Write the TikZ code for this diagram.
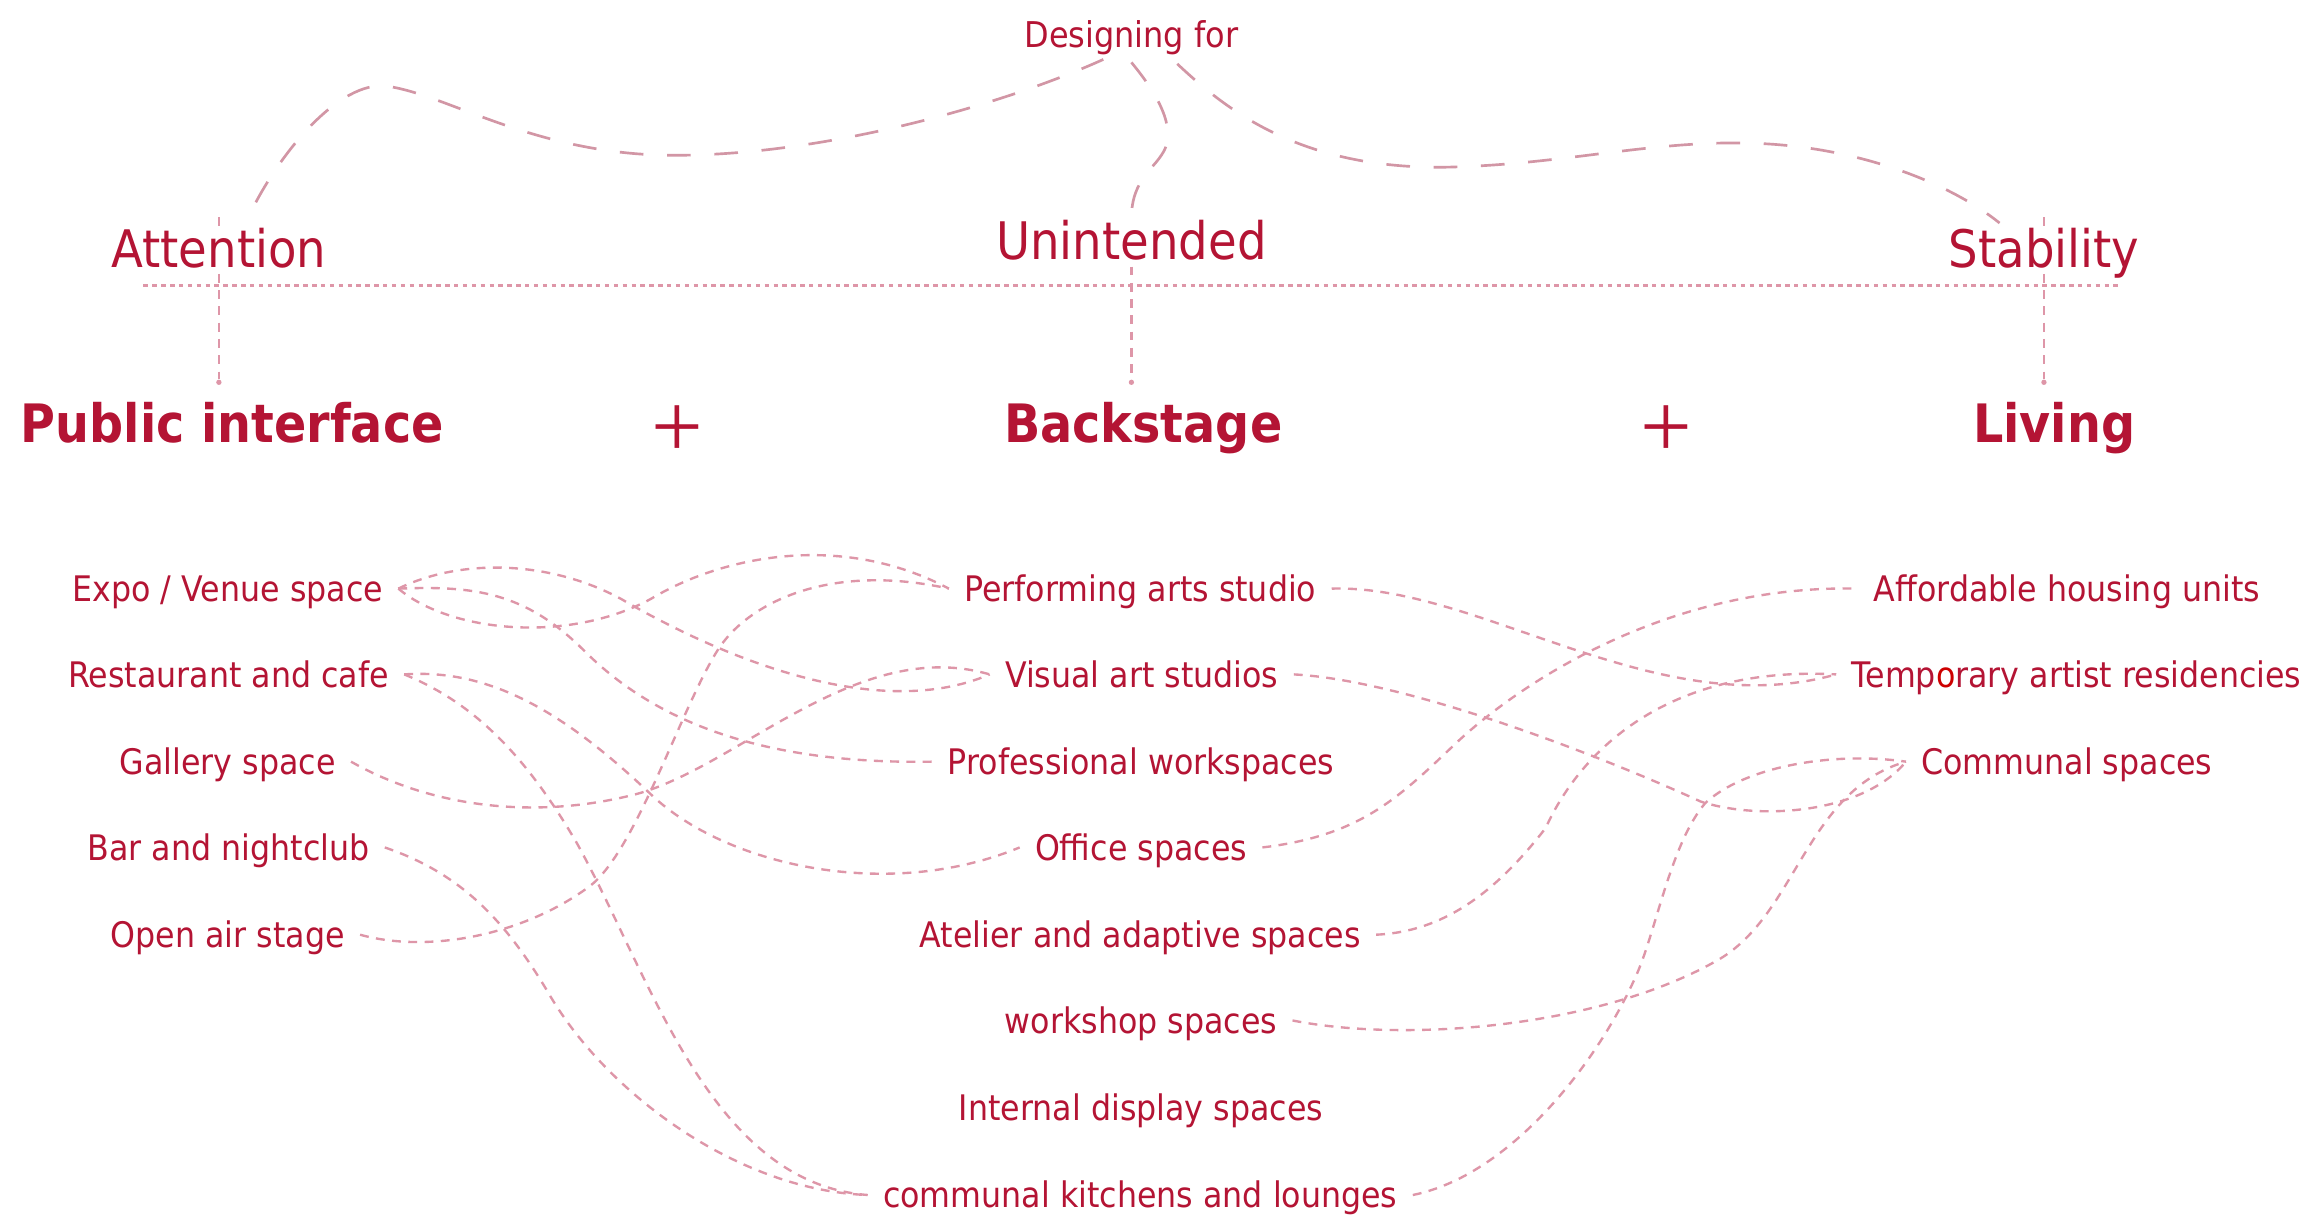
\documentclass[tikz,border=0pt]{standalone}
\usepackage{fontspec}
\setmainfont{DejaVu Sans}[FakeStretch=0.9]
\newfontfamily\plusfont{Liberation Serif}
\usetikzlibrary{calc}
\definecolor{txt}{RGB}{180,20,52}
\definecolor{ln}{RGB}{222,150,168}
\definecolor{lnt}{RGB}{210,150,165}
\definecolor{ored}{RGB}{205,0,0}
\begin{document}
\begin{tikzpicture}[x=0.5pt,y=-0.5pt,
  item/.style={text=txt, font=\fontsize{11.9}{14}\selectfont, inner xsep=5pt, inner ysep=0pt, text height=8.7pt, text depth=0pt},
  small/.style={text=txt, font=\fontsize{12}{14}\selectfont, inner sep=0pt, text height=8.8pt, text depth=0pt},
  head/.style={text=txt, font=\fontsize{17.5}{20}\selectfont, inner sep=0pt, text height=12.8pt, text depth=0pt},
  bold/.style={text=txt, font=\bfseries\fontsize{17.9}{21}\selectfont, inner sep=0pt, text height=13.1pt, text depth=0pt},
  plus/.style={text=txt, font=\plusfont\fontsize{31}{33}\selectfont, inner sep=0pt},
  link/.style={draw=ln, line width=0.8pt, dash pattern=on 3pt off 2.5pt},
  toplink/.style={draw=lnt, line width=0.9pt, dash pattern=on 8pt off 8pt},
  dotline/.style={draw=ln, line width=0.8pt, dash pattern=on 1.5pt off 1.5pt},
  vline/.style={draw=ln, line width=0.8pt, dash pattern=on 3pt off 2.5pt},
]
\fill[white] (0,0) rectangle (1568,828.3);
\useasboundingbox (0,0) rectangle (1568,828.3);

% top
\node[small] (des) at (765,23) {Designing for};
\node[head] (att) at (148,168) {Attention};
\node[head] (uni) at (765,163) {Unintended};
\node[head] (sta) at (1382,168) {Stability};
\node[bold] (pub) at (157,286) {Public interface};
\node[plus] (p1) at (458,292) {+};
\node[bold] (bac) at (773,286) {Backstage};
\node[plus] (p2) at (1127,292) {+};
\node[bold] (liv) at (1389,286) {Living};

\coordinate (dl) at (97,193);
\coordinate (dr) at (1435,193);
\draw[dotline] (dl) -- (dr);

% verticals
\draw[vline] ([yshift=1pt]att.north) -- ([yshift=6pt]att.north);
\draw[vline] ([yshift=-2pt]att.south) -- ([yshift=8pt]att.south |- pub.north);
\fill[ln] ([yshift=7pt]att.south |- pub.north) circle (1.8);
\draw[vline] ([yshift=-2pt]uni.south) -- ([yshift=8pt]uni.south |- bac.north);
\fill[ln] ([yshift=7pt]uni.south |- bac.north) circle (1.8);
\draw[vline] ([yshift=1pt]sta.north) -- ([yshift=6pt]sta.north);
\draw[vline] ([yshift=-2pt]sta.south) -- ([yshift=8pt]sta.south |- liv.north);
\fill[ln] ([yshift=7pt]sta.south |- liv.north) circle (1.8);

% curves from Designing for
\draw[toplink] ($(des.south)+(-19,8)$) .. controls (680,70) and (560,105) .. (456,105)
  .. controls (360,105) and (300,62) .. (259,58)
  .. controls (225,57) and (185,110) .. ($(att.north)+(20,-8)$);
\draw[toplink] ($(des.south)+(0,10)$) .. controls (778,58) and (795,82) .. (788,100)
  .. controls (782,114) and (765,120) .. ([yshift=1pt]uni.north);
\draw[toplink] ($(des.south)+(31,11)$) .. controls (830,75) and (880,115) .. (980,113)
  .. controls (1060,111) and (1120,94) .. (1189,97)
  .. controls (1260,100) and (1320,125) .. ($(sta.north)+(-30,-4)$);

% left column
\node[item] (expo) at (154,398) {Expo / Venue space};
\node[item] (res) at (154.5,456) {Restaurant and cafe};
\node[item] (gal) at (154,515) {Gallery space};
\node[item] (bar) at (154.5,573) {Bar and nightclub};
\node[item] (ope) at (154,632) {Open air stage};

% middle column
\node[item] (per) at (771,398) {Performing arts studio};
\node[item] (vis) at (772,456) {Visual art studios};
\node[item] (pro) at (771.5,515) {Professional workspaces};
\node[item] (off) at (771.5,573) {Office spaces};
\node[item] (ate) at (771,632) {Atelier and adaptive spaces};
\node[item] (wor) at (771.5,690) {workshop spaces};
\node[item] (int) at (771.5,749) {Internal display spaces};
\node[item] (kit) at (771,808) {communal kitchens and lounges};

% right column
\node[item] (aff) at (1397.5,398) {Affordable housing units};
\node[item] (tem) at (1404,456) {Temp{\color{ored}o}rary artist residencies};
\node[item] (com) at (1397.5,515) {Communal spaces};

% left -> middle
\draw[link] (expo.east) .. controls (310,378) and (370,378) .. (420,405)
  .. controls (480,440) and (590,490) .. (vis.west);
\draw[link] (expo.east) .. controls (320,396) and (355,400) .. (395,440)
  .. controls (440,485) and (510,517) .. (pro.west);
\draw[link] (expo.east) .. controls (305,428) and (385,435) .. (440,405)
  .. controls (490,375) and (570,360) .. (per.west);
\draw[link] (res.east) .. controls (330,452) and (380,480) .. (440,537)
  .. controls (490,585) and (600,610) .. (off.west);
\draw[link] (res.east) .. controls (320,475) and (355,510) .. (390,570)
  .. controls (440,660) and (480,800) .. (kit.west);
\draw[link] (gal.east) .. controls (290,545) and (360,555) .. (430,537)
  .. controls (500,518) and (580,430) .. (vis.west);
\draw[link] (bar.east) .. controls (310,590) and (340,620) .. (370,670)
  .. controls (410,740) and (500,805) .. (kit.west);
\draw[link] (ope.east) .. controls (290,645) and (355,632) .. (399,599)
  .. controls (430,575) and (460,480) .. (485,440)
  .. controls (505,408) and (560,380) .. (per.west);

% middle -> right
\draw[link] (per.east) .. controls (1000,395) and (1120,490) .. (tem.west);
\draw[link] (vis.east) .. controls (950,460) and (1080,510) .. (1150,542)
  .. controls (1190,555) and (1260,550) .. (com.west);
\draw[link] (off.east) .. controls (920,565) and (945,540) .. (985,502)
  .. controls (1030,460) and (1130,395) .. (aff.west);
\draw[link] (ate.east) .. controls (975,630) and (1010,605) .. (1045,560)
  .. controls (1070,505) and (1130,450) .. (tem.west);
\draw[link] (wor.east) .. controls (950,705) and (1080,695) .. (1160,650)
  .. controls (1215,620) and (1220,535) .. (com.west);
\draw[link] (kit.east) .. controls (1020,795) and (1080,720) .. (1107,658)
  .. controls (1120,628) and (1130,570) .. (1153,543)
  .. controls (1180,518) and (1240,508) .. (com.west);
\end{tikzpicture}
\end{document}
